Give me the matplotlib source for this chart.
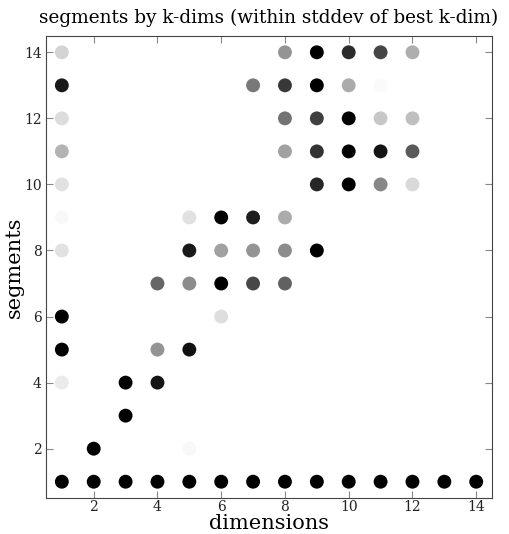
import matplotlib
matplotlib.use("Agg")
import matplotlib.pyplot as plt

# darkness of each dot: 1 = black, 0 = white
dims = [1]*11 + [2]*2 + [3]*3 + [4]*4 + [5]*6 + [6]*5 + [7]*5 + [8]*8 + [9]*7 + [10]*6 + [11]*6 + [12]*5 + [13] + [14]
segs = ([1, 4, 5, 6, 8, 9, 10, 11, 12, 13, 14] +
        [1, 2] +
        [1, 3, 4] +
        [1, 4, 5, 7] +
        [1, 2, 5, 7, 8, 9] +
        [1, 6, 7, 8, 9] +
        [1, 7, 8, 9, 13] +
        [1, 7, 8, 9, 11, 12, 13, 14] +
        [1, 8, 10, 11, 12, 13, 14] +
        [1, 10, 11, 12, 13, 14] +
        [1, 10, 11, 12, 13, 14] +
        [1, 10, 11, 12, 14] +
        [1] + [1])
darkness = ([1.0, 0.08, 1.0, 1.0, 0.12, 0.03, 0.12, 0.30, 0.14, 0.90, 0.17] +
            [1.0, 1.0] +
            [1.0, 1.0, 1.0] +
            [1.0, 0.92, 0.42, 0.60] +
            [1.0, 0.03, 0.93, 0.45, 0.90, 0.12] +
            [1.0, 0.13, 1.0, 0.37, 1.0] +
            [1.0, 0.72, 0.42, 0.88, 0.53] +
            [1.0, 0.62, 0.45, 0.33, 0.37, 0.55, 0.78, 0.42] +
            [1.0, 1.0, 0.85, 0.80, 0.75, 1.0, 1.0] +
            [1.0, 1.0, 1.0, 1.0, 0.33, 0.83] +
            [1.0, 0.47, 0.92, 0.22, 0.02, 0.73] +
            [1.0, 0.15, 0.65, 0.25, 0.32] +
            [1.0] + [1.0])

plt.rcParams['font.family'] = ['DejaVu Serif']
fig = plt.figure(figsize=(5.10, 5.34), dpi=100)
ax = fig.add_axes([0.090, 0.067, 0.875, 0.866])
ax.scatter(dims, segs, c=darkness, cmap='gray_r', vmin=0, vmax=1,
           s=100, edgecolors='none', zorder=3)
ax.set_xlim(0.5, 14.5)
ax.set_ylim(0.5, 14.5)
ax.set_xticks(range(2, 15, 2))
ax.set_yticks(range(2, 15, 2))
ax.tick_params(direction='in', top=True, right=True, length=5, color='#888888',
               labelsize=10, labelcolor='#222222')
ax.tick_params(axis='x', pad=1)
ax.tick_params(axis='y', pad=3)
for sp in ax.spines.values():
    sp.set_color('#444444')
ax.set_title('segments by k-dims (within stddev of best k-dim)', fontsize=13.3, pad=9)
ax.set_xlabel('dimensions', fontsize=15, labelpad=0)
ax.set_ylabel('segments', fontsize=15, labelpad=0)
fig.savefig('out.png', dpi=100)
